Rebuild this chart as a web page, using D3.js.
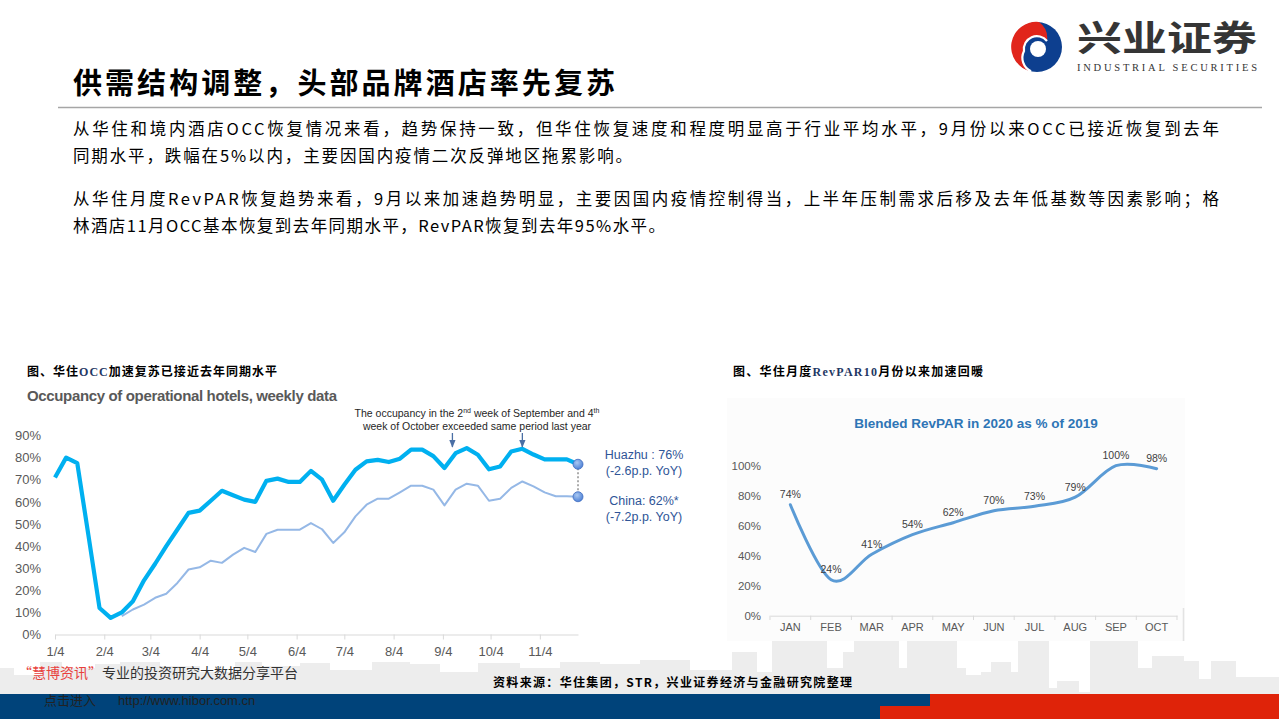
<!DOCTYPE html>
<html><head><meta charset="utf-8">
<script src="https://cdn.jsdelivr.net/npm/d3@7"></script>
<style>body{margin:0;background:#fff;}svg{display:block;}</style>
</head><body>
<svg id="c" width="1279" height="719"></svg>
<script>
// ---------- DATA ----------
const occStart = new Date(2020, 0, 4);           // first weekly observation (1/4)
const huazhuOcc = [71,80,77.5,45,12,7.5,10,15,24.5,32,40,47.5,55,56,60.5,65,63,61,60,69.5,70.5,69,69,74,70,60.5,67.7,74.5,78.3,79,78,79.5,83.6,83.6,80.7,75.3,82,84.3,81.3,74.7,76,82.8,84,81.4,79.2,79.2,79.2,77];
const chinaOcc = [null,null,null,null,null,null,8.3,11.3,13.5,16.6,18.4,23.3,29.4,30.4,33.4,32.4,36.1,39.2,37.3,45.5,47.4,47.4,47.4,50.4,47.6,41.4,46.2,53.4,58.7,61.4,61.4,64.3,67.3,67.3,65.5,58.4,65.5,68.2,67.3,60.5,61.4,66.3,69.2,67,64.3,62.5,62.5,62.3];
const occTickLabels = ["1/4","2/4","3/4","4/4","5/4","6/4","7/4","8/4","9/4","10/4","11/4"];
const occYTicks = [0,10,20,30,40,50,60,70,80,90];
const arrowDates = [new Date(2020,8,10), new Date(2020,9,24)];

const revMonths = ["JAN","FEB","MAR","APR","MAY","JUN","JUL","AUG","SEP","OCT"];
const revValues = [74,24,41,54,62,70,73,79,100,98];
const revYTicks = [0,20,40,60,80,100];

const svg = d3.select('#c');
const CJK = '"Noto Sans CJK SC", sans-serif';
const LAT = '"Liberation Sans", Arial, sans-serif';

// ---------- FOOTER DECORATION ----------
const skyline = [[0,14,668],[14,40,675],[40,62,662],[62,95,668],[95,120,664],[120,160,662],[160,200,666],[200,235,672],[235,262,662],[262,300,666],[300,330,663],[330,372,670],[372,410,662],[410,440,664],[440,478,672],[478,520,663],[520,560,668],[560,600,662],[600,640,664],[640,690,660],[690,732,670],[732,757,652],[757,772,672],[772,827,641],[827,843,668],[843,854,652],[854,899,641],[899,907,668],[907,957,641],[957,966,668],[966,981,675],[981,991,672],[991,1011,662],[1011,1018,672],[1018,1049,641],[1049,1057,688],[1057,1079,681],[1079,1090,692],[1090,1138,641],[1138,1152,668],[1152,1184,656],[1184,1199,661],[1199,1211,679],[1211,1236,661],[1236,1279,677]];
svg.append('g').selectAll('rect').data(skyline).join('rect')
  .attr('x', d=>d[0]).attr('y', d=>d[2]).attr('width', d=>d[1]-d[0]).attr('height', d=>695-d[2])
  .attr('fill', '#ededed');
svg.append('rect').attr('x',0).attr('y',694).attr('width',930).attr('height',25).attr('fill','#00437a');
svg.append('rect').attr('x',930).attr('y',694).attr('width',349).attr('height',25).attr('fill','#df2309');
svg.append('rect').attr('x',880).attr('y',706).attr('width',50).attr('height',13).attr('fill','#df2309');

// ---------- HEADER ----------
const logo = svg.append('g').attr('transform','translate(1037,47)');
logo.append('circle').attr('r',25).attr('fill','#0d3f8f');
logo.append('path').attr('d','M2,-25 A25,25 0 0,0 -6,24.3 A15,15 0 0,1 -13,4 A13,13 0 0,1 10,-6 A20,20 0 0,0 2,-25Z').attr('fill','#e1251b');
logo.append('path').attr('d','M-6,24.3 A15,15 0 0,1 -13,4 A13,13 0 0,1 10,-6').attr('fill','none').attr('stroke','#fff').attr('stroke-width',2.2);
logo.append('circle').attr('cx',1).attr('cy',2).attr('r',8).attr('fill','#fff');
svg.append('text').attr('x',1077).attr('y',38).attr('dy','0.36em').attr('textLength',180).attr('lengthAdjust','spacingAndGlyphs')
  .style('font-family',CJK).style('font-weight',700).style('font-size','35px').attr('fill','#353535').text('兴业证券');
svg.append('text').attr('x',1077).attr('y',71).attr('textLength',180).attr('lengthAdjust','spacing')
  .style('font-family','"Liberation Serif", serif').style('font-size','10.5px').attr('fill','#353535').text('INDUSTRIAL SECURITIES');

svg.append('text').attr('x',73).attr('y',84).attr('dy','0.36em').attr('textLength',542).attr('lengthAdjust','spacing')
  .style('font-family',CJK).style('font-weight',700).style('font-size','29px').attr('fill','#000').text('供需结构调整，头部品牌酒店率先复苏');
svg.append('line').attr('x1',58).attr('x2',1262).attr('y1',107.5).attr('y2',107.5).attr('stroke','#a6a6a6').attr('stroke-width',1.5);

const para = [
  ['从华住和境内酒店OCC恢复情况来看，趋势保持一致，但华住恢复速度和程度明显高于行业平均水平，9月份以来OCC已接近恢复到去年',129,1146],
  ['同期水平，跌幅在5%以内，主要因国内疫情二次反弹地区拖累影响。',156,559],
  ['从华住月度RevPAR恢复趋势来看，9月以来加速趋势明显，主要因国内疫情控制得当，上半年压制需求后移及去年低基数等因素影响；格',199,1146],
  ['林酒店11月OCC基本恢复到去年同期水平，RevPAR恢复到去年95%水平。',226,592]
];
svg.append('g').selectAll('text').data(para).join('text')
  .attr('x',73).attr('y',d=>d[1]).attr('dy','0.36em').attr('textLength',d=>d[2]).attr('lengthAdjust','spacing')
  .style('font-family',CJK).style('font-size','16.5px').attr('fill','#000').text(d=>d[0]);

// ---------- CAPTIONS ----------
function caption(x, parts){
  const t = svg.append('text').attr('x',x).attr('y',372).attr('dy','0.36em').attr('textLength',250).attr('lengthAdjust','spacing')
    .style('font-family',CJK).style('font-weight',700).style('font-size','12px').attr('fill','#000');
  parts.forEach(p=>t.append('tspan').attr('fill',p[1]||'#000').style('font-family',p[1]?'"Liberation Serif", serif':CJK).text(p[0]));
}
caption(27, [['图、华住'],['OCC','#1f3864'],['加速复苏已接近去年同期水平']]);
caption(733, [['图、华住月度'],['RevPAR10','#1f3864'],['月份以来加速回暖']]);

// ---------- LEFT CHART ----------
const L = svg.append('g');
L.append('text').attr('x',27).attr('y',396).attr('dy','0.36em').attr('textLength',310).attr('lengthAdjust','spacing')
  .style('font-family',LAT).style('font-weight',700).style('font-size','15px').attr('fill','#595959')
  .text('Occupancy of operational hotels, weekly data');

const dates = huazhuOcc.map((_,i)=>d3.timeDay.offset(occStart, 7*i));
const x = d3.scaleTime().domain([dates[0], dates[dates.length-1]]).range([55,578]);
const y = d3.scaleLinear().domain([0,90]).range([634.5,435.5]);
const tickDates = occTickLabels.map((_,m)=>new Date(2020,m,4));

const xa = L.append('g').attr('transform','translate(0,634.5)')
  .call(d3.axisBottom(x).tickValues(tickDates).tickFormat((d,i)=>occTickLabels[i]).tickSize(5).tickSizeOuter(0).tickPadding(7));
xa.select('.domain').attr('stroke','#d9d9d9');
xa.selectAll('.tick line').attr('stroke','#d9d9d9');
xa.selectAll('text').style('font-family',LAT).style('font-size','13px').attr('fill','#595959');

const ya = L.append('g').attr('transform','translate(55,0)')
  .call(d3.axisLeft(y).tickValues(occYTicks).tickFormat(d=>d+'%').tickSize(0).tickPadding(14));
ya.select('.domain').remove();
ya.selectAll('text').style('font-family',LAT).style('font-size','13px').attr('fill','#595959');

const lineH = d3.line().defined(d=>d!=null).x((d,i)=>x(dates[i])).y(d=>y(d));
L.append('path').datum(chinaOcc).attr('d',lineH).attr('fill','none').attr('stroke','#95b8e6').attr('stroke-width',2).attr('stroke-linejoin','round');
L.append('path').datum(huazhuOcc).attr('d',lineH).attr('fill','none').attr('stroke','#00b0f0').attr('stroke-width',4.2).attr('stroke-linejoin','round');

const defs = svg.append('defs');
const rg = defs.append('radialGradient').attr('id','dotg').attr('cx','40%').attr('cy','35%').attr('r','65%');
rg.append('stop').attr('offset','0%').attr('stop-color','#a9c8f2');
rg.append('stop').attr('offset','100%').attr('stop-color','#4f82d6');
const mk = defs.append('marker').attr('id','arr').attr('viewBox','0 0 10 10').attr('refX',9).attr('refY',5)
  .attr('markerWidth',6).attr('markerHeight',6).attr('orient','auto');
mk.append('path').attr('d','M0,1 L10,5 L0,9 Z').attr('fill','#4a6fa5');

const lastI = huazhuOcc.length-1;
const lx = x(dates[lastI]);
L.append('line').attr('x1',lx).attr('x2',lx).attr('y1',y(huazhuOcc[lastI])).attr('y2',y(chinaOcc[lastI]))
  .attr('stroke','#595959').attr('stroke-width',1).attr('stroke-dasharray','2,2');
[huazhuOcc[lastI], chinaOcc[lastI]].forEach(v=>{
  L.append('circle').attr('cx',lx).attr('cy',y(v)).attr('r',5).attr('fill','url(#dotg)').attr('stroke','#3d6bbf').attr('stroke-width',0.8);
});

// annotation
const ann = L.append('text').style('font-family',LAT).style('font-size','10.5px').attr('fill','#262626').attr('text-anchor','middle');
const a1 = ann.append('tspan').attr('x',477).attr('y',417);
a1.append('tspan').text('The occupancy in the 2');
a1.append('tspan').attr('dy','-4').style('font-size','7px').text('nd');
a1.append('tspan').attr('dy','4').text(' week of September and 4');
a1.append('tspan').attr('dy','-4').style('font-size','7px').text('th');
ann.append('tspan').attr('x',477).attr('y',429.5).text('week of October exceeded same period last year');
arrowDates.forEach(d=>{
  L.append('line').attr('x1',x(d)).attr('x2',x(d)).attr('y1',433).attr('y2',447)
    .attr('stroke','#4a6fa5').attr('stroke-width',1.3).attr('marker-end','url(#arr)');
});

const endLabels = [['Huazhu : 76%',454],['(-2.6p.p. YoY)',470],['China: 62%*',500],['(-7.2p.p. YoY)',516]];
L.append('g').selectAll('text').data(endLabels).join('text')
  .attr('x',644).attr('y',d=>d[1]).attr('dy','0.36em').attr('text-anchor','middle')
  .style('font-family',LAT).style('font-size','12.5px').attr('fill','#2f5597').text(d=>d[0]);

// ---------- RIGHT CHART ----------
const R = svg.append('g');
R.append('rect').attr('x',727).attr('y',398).attr('width',458).attr('height',243).attr('fill','#fcfcfc');
R.append('line').attr('x1',1183.5).attr('x2',1183.5).attr('y1',608).attr('y2',641).attr('stroke','#e3e3e3').attr('stroke-width',1.5);
R.append('text').attr('x',976).attr('y',423).attr('dy','0.36em').attr('text-anchor','middle')
  .style('font-family',LAT).style('font-weight',700).style('font-size','13.5px').attr('fill','#2e75b6')
  .text('Blended RevPAR in 2020 as % of 2019');

const xb = d3.scaleBand().domain(revMonths).range([770,1177]).padding(0);
const yr = d3.scaleLinear().domain([0,100]).range([615.7,465.7]);

const rxa = R.append('g').attr('transform','translate(0,615.7)')
  .call(d3.axisBottom(xb).tickSize(0).tickPadding(8));
rxa.select('.domain').attr('stroke','#d9d9d9');
rxa.selectAll('text').style('font-family',LAT).style('font-size','11px').attr('fill','#595959');
R.append('g').selectAll('line').data(revMonths.map(m=>xb(m)).concat([xb.range()[1]])).join('line')
  .attr('x1',d=>d).attr('x2',d=>d).attr('y1',615.7).attr('y2',620).attr('stroke','#d9d9d9');

const rya = R.append('g').attr('transform','translate(770,0)')
  .call(d3.axisLeft(yr).tickValues(revYTicks).tickFormat(d=>d+'%').tickSize(0).tickPadding(9));
rya.select('.domain').remove();
rya.selectAll('text').style('font-family',LAT).style('font-size','11.5px').attr('fill','#595959');

const rline = d3.line().curve(d3.curveCardinal.tension(0))
  .x((d,i)=>xb(revMonths[i])+xb.bandwidth()/2).y(d=>yr(d));
R.append('path').datum(revValues).attr('d',rline).attr('fill','none').attr('stroke','#5b9bd5').attr('stroke-width',3).attr('stroke-linecap','round');
R.append('g').selectAll('text').data(revValues).join('text')
  .attr('x',(d,i)=>xb(revMonths[i])+xb.bandwidth()/2).attr('y',d=>yr(d)-10).attr('dy','0.36em').attr('text-anchor','middle')
  .style('font-family',LAT).style('font-size','10.5px').attr('fill','#404040').text(d=>d+'%');

// ---------- FOOTER TEXT ----------
const wm = svg.append('text').attr('x',18).attr('y',673).attr('dy','0.36em').style('font-family',CJK).style('font-size','14px');
wm.append('tspan').attr('fill','#e8413c').text('“慧博资讯”');
wm.append('tspan').attr('fill','#333').text('专业的投资研究大数据分享平台');
svg.append('text').attr('x',44).attr('y',700).attr('dy','0.36em').style('font-family',CJK).style('font-size','13px').attr('fill','#222').text('点击进入');
svg.append('text').attr('x',118).attr('y',700).attr('dy','0.36em').style('font-family',LAT).style('font-size','13px').attr('fill','#222').text('http://www.hibor.com.cn');
svg.append('text').attr('x',493).attr('y',683).attr('dy','0.36em').attr('textLength',359).attr('lengthAdjust','spacing')
  .style('font-family',CJK).style('font-weight',700).style('font-size','12px').attr('fill','#000')
  .text('资料来源：华住集团，STR，兴业证券经济与金融研究院整理');
</script>
</body></html>
